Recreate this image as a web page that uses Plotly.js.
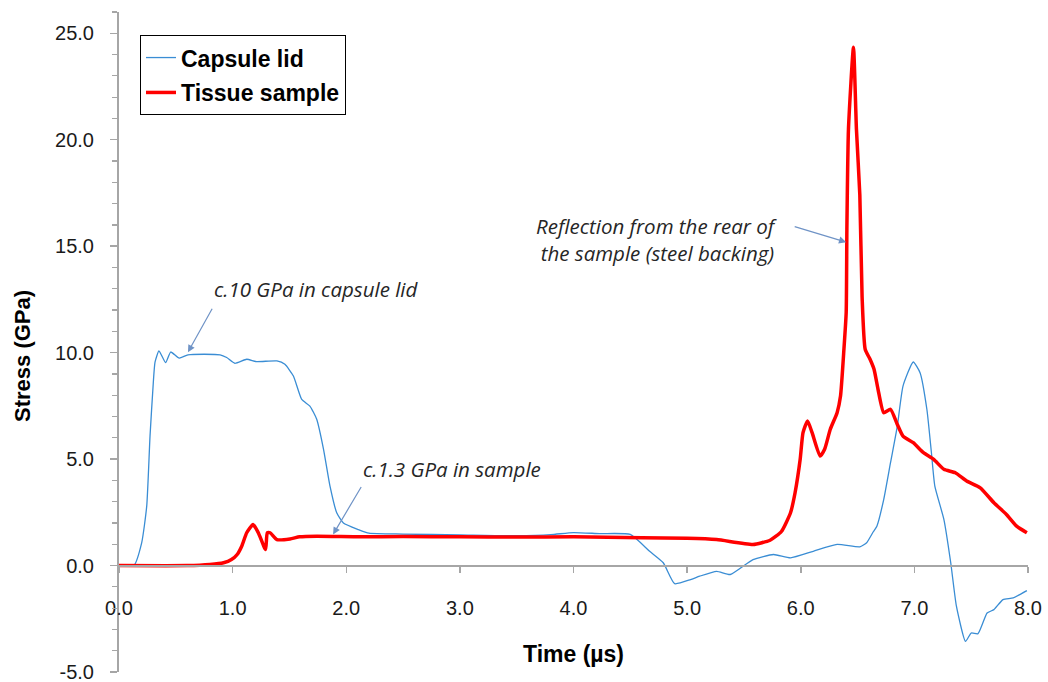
<!DOCTYPE html>
<html>
<head>
<meta charset="utf-8">
<script src="https://cdn.plot.ly/plotly-3.0.1.min.js"></script>
<style>html,body{margin:0;padding:0;background:#fff;}#chart{width:1048px;height:682px;}</style>
</head>
<body>
<div id="chart"></div>
<script>
// Capsule lid stress (GPa) vs time (µs)
var capsuleT = [0, 0.13, 0.2, 0.244, 0.273, 0.302, 0.317, 0.352, 0.41, 0.455, 0.53, 0.607, 0.89, 0.948, 1.02, 1.124, 1.21, 1.39, 1.46, 1.535, 1.608, 1.68, 1.74, 1.8, 1.857, 1.916, 1.975, 2.107, 2.2, 2.5, 3.0, 3.5, 3.8, 4.0, 4.23, 4.5, 4.67, 4.79, 4.89, 5.03, 5.11, 5.26, 5.38, 5.58, 5.76, 5.91, 6.11, 6.32, 6.52, 6.58, 6.64, 6.67, 6.73, 6.79, 6.85, 6.9, 6.99, 7.05, 7.11, 7.15, 7.18, 7.26, 7.32, 7.37, 7.45, 7.5, 7.56, 7.64, 7.7, 7.78, 7.87, 7.99];
var capsuleS = [0, 0, 1.08, 2.79, 6.08, 8.6, 9.55, 10.08, 9.53, 10.03, 9.74, 9.9, 9.9, 9.77, 9.5, 9.69, 9.58, 9.61, 9.45, 8.9, 7.8, 7.49, 6.87, 5.46, 3.73, 2.48, 2.0, 1.69, 1.52, 1.48, 1.44, 1.4, 1.45, 1.55, 1.5, 1.46, 0.67, 0.13, -0.85, -0.66, -0.5, -0.27, -0.42, 0.28, 0.52, 0.36, 0.67, 0.99, 0.88, 1.07, 1.6, 1.85, 3.1, 4.83, 6.55, 8.43, 9.56, 9.06, 7.34, 5.3, 3.73, 2.16, 0.13, -1.91, -3.56, -3.17, -3.2, -2.23, -2.07, -1.6, -1.52, -1.18];

// Tissue sample stress (GPa) vs time (µs)
var tissueT = [0, 0.6, 0.8, 0.92, 0.99, 1.04, 1.08, 1.124, 1.18, 1.226, 1.29, 1.305, 1.33, 1.39, 1.505, 1.59, 1.74, 2.12, 2.5, 3.0, 3.5, 4.0, 4.3, 4.6, 5.0, 5.26, 5.58, 5.73, 5.83, 5.91, 5.95, 5.995, 6.02, 6.06, 6.1, 6.17, 6.21, 6.26, 6.32, 6.35, 6.38, 6.4, 6.406, 6.42, 6.464, 6.49, 6.52, 6.54, 6.567, 6.61, 6.645, 6.68, 6.73, 6.79, 6.85, 6.9, 6.99, 7.08, 7.17, 7.26, 7.36, 7.46, 7.58, 7.7, 7.81, 7.9, 7.99];
var tissueS = [0, 0, 0.05, 0.13, 0.28, 0.52, 0.91, 1.54, 1.93, 1.54, 0.75, 1.54, 1.54, 1.22, 1.25, 1.35, 1.38, 1.35, 1.36, 1.35, 1.34, 1.35, 1.33, 1.3, 1.28, 1.22, 0.99, 1.19, 1.6, 2.48, 3.42, 4.99, 6.24, 6.79, 6.24, 5.14, 5.46, 6.4, 7.18, 7.96, 10.16, 11.9, 15.8, 20.5, 24.35, 20.5, 17.4, 12.6, 10.16, 9.69, 9.22, 8.28, 7.18, 7.34, 6.63, 6.08, 5.77, 5.3, 4.99, 4.52, 4.36, 3.97, 3.65, 2.95, 2.4, 1.85, 1.54];

var yTickVals = [-5, 0, 5, 10, 15, 20, 25];
var yTickLabels = ['-5.0', '0.0', '5.0', '10.0', '15.0', '20.0', '25.0'];
var xTickVals = [0, 1, 2, 3, 4, 5, 6, 7, 8];
var xTickLabels = ['0.0', '1.0', '2.0', '3.0', '4.0', '5.0', '6.0', '7.0', '8.0'];

var seriesNames = ['<b>Capsule lid</b>', '<b>Tissue sample</b>'];

var traces = [
  {x: capsuleT, y: capsuleS, name: seriesNames[0], type: 'scatter', mode: 'lines',
   line: {color: '#3a8dd4', width: 1.3, shape: 'spline', smoothing: 0.5}, legendgroup: 'a'},
  {x: tissueT, y: tissueS, name: seriesNames[1], type: 'scatter', mode: 'lines',
   line: {color: '#ff0000', width: 3.5, shape: 'spline', smoothing: 0.5}, legendgroup: 'b'}
];

var annFont = {family: '"Open Sans", Lato, sans-serif', size: 20.5, color: '#262626', style: 'italic'};
var arrowColor = '#6f93c6';

var layout = {
  width: 1048, height: 682,
  margin: {l: 119, r: 20, t: 12, b: 10},
  paper_bgcolor: '#ffffff', plot_bgcolor: '#ffffff',
  font: {family: '"Liberation Sans", Arial, sans-serif', size: 20, color: '#1a1a1a'},
  showlegend: true,
  legend: {x: 0.0231, y: 0.965, xanchor: 'left', yanchor: 'top', bordercolor: '#000000', borderwidth: 1,
           bgcolor: '#ffffff', font: {size: 23, color: '#000000'}, traceorder: 'grouped', tracegroupgap: 2},
  xaxis: {
    range: [0, 8], tickvals: xTickVals, ticktext: xTickLabels, anchor: 'free', position: 5/31,
    showgrid: false, zeroline: false, showline: true, linecolor: '#a6a6a6', linewidth: 2,
    ticks: 'outside', ticklen: 6, tickwidth: 1.5, tickcolor: '#a6a6a6', ticklabelstandoff: 18,
    tickfont: {size: 20, color: '#1a1a1a'}, ticklabeloverflow: 'allow'
  },
  yaxis: {
    range: [-5, 26], tickvals: yTickVals, ticktext: yTickLabels,
    showgrid: false, zeroline: false, showline: true, linecolor: '#a6a6a6', linewidth: 2,
    ticks: 'outside', ticklen: 7, tickwidth: 1.5, tickcolor: '#a6a6a6', ticklabelstandoff: 12,
    minor: {dtick: 1, ticks: 'outside', ticklen: 5, tickwidth: 1.2, tickcolor: '#a6a6a6', showgrid: false},
    tickfont: {size: 20, color: '#1a1a1a'}, ticklabeloverflow: 'allow'
  },
  annotations: [
    {x: 0.5, y: (672 - 654) / 660, xref: 'paper', yref: 'paper', text: '<b>Time (µs)</b>', showarrow: false,
     font: {size: 23, color: '#000000'}, xanchor: 'center', yanchor: 'middle'},
    {x: (22 - 119) / 909, y: (672 - 356) / 660, xref: 'paper', yref: 'paper', text: '<b>Stress (GPa)</b>', showarrow: false,
     textangle: -90, font: {size: 22, color: '#000000'}, xanchor: 'center', yanchor: 'middle'},
    {x: 1.74, y: 12.98, xref: 'x', yref: 'y', text: 'c.10 GPa in capsule lid', showarrow: false, font: annFont},
    {x: 2.93, y: 4.52, xref: 'x', yref: 'y', text: 'c.1.3 GPa in sample', showarrow: false, font: annFont},
    {x: 5.82, y: 15.3, xref: 'x', yref: 'y', xanchor: 'right', align: 'right',
     text: 'Reflection from the rear of<br>the sample (steel backing)', showarrow: false, font: annFont},
    {x: 0.607, y: 10.02, xref: 'x', yref: 'y', text: '', showarrow: true, ax: 25, ay: -45,
     arrowcolor: arrowColor, arrowwidth: 1.2, arrowhead: 2, arrowsize: 1.2},
    {x: 1.884, y: 1.46, xref: 'x', yref: 'y', text: '', showarrow: true, ax: 29, ay: -49,
     arrowcolor: arrowColor, arrowwidth: 1.2, arrowhead: 2, arrowsize: 1.2},
    {x: 6.40, y: 15.19, xref: 'x', yref: 'y', text: '', showarrow: true, ax: -53, ay: -16,
     arrowcolor: arrowColor, arrowwidth: 1.2, arrowhead: 2, arrowsize: 1.2}
  ]
};

Plotly.newPlot('chart', traces, layout, {displayModeBar: false, staticPlot: true});
</script>
</body>
</html>
